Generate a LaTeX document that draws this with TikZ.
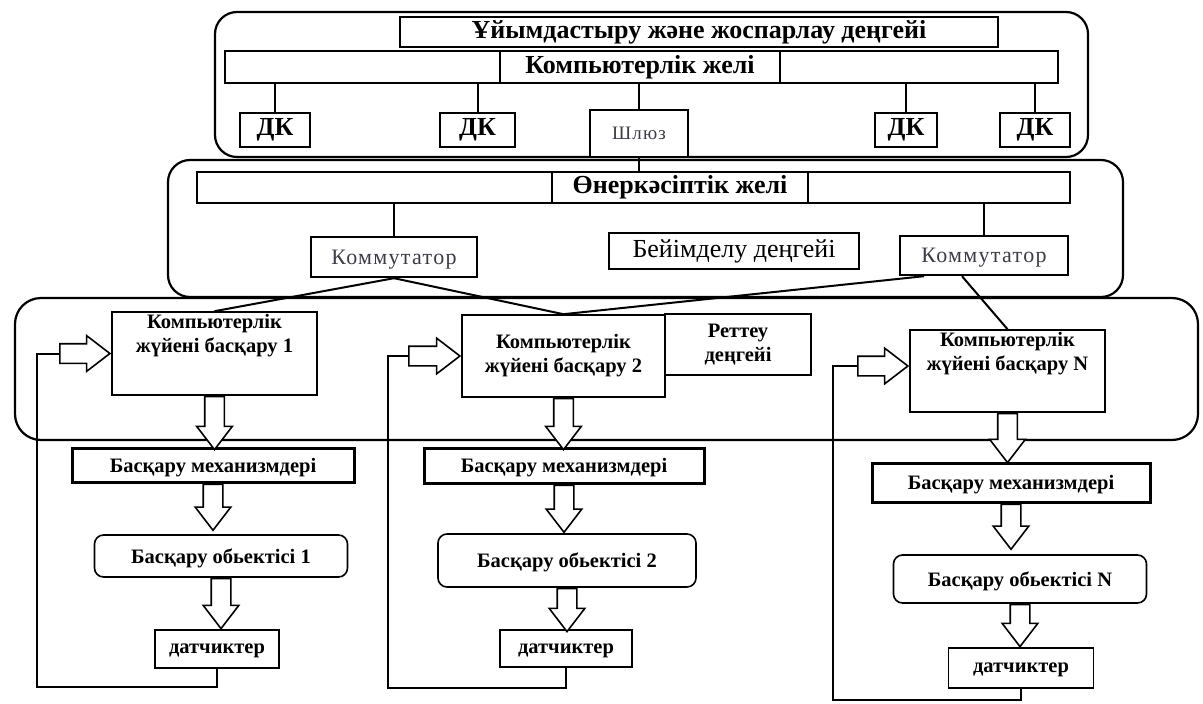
\documentclass[tikz,border=0pt]{standalone}
\usepackage{fontspec}
\setmainfont{Liberation Serif}
\usetikzlibrary{positioning,shapes.arrows}

\definecolor{komtext}{RGB}{60,60,72}

\tikzset{
  sz/.style 2 args={minimum width=#1, minimum height=#2},
  level/.style={draw, line width=2.2pt, rounded corners=22pt, inner sep=0pt},
  bar/.style={draw, line width=2.6pt, inner sep=0pt},
  lbl/.style={draw, line width=1.4pt, fill=white, inner sep=0pt, font=\bfseries\fontsize{26}{28}\selectfont},
  pc/.style={draw, line width=1.6pt, fill=white, inner sep=0pt, font=\bfseries\fontsize{26}{28}\selectfont},
  kom/.style={draw, line width=2.4pt, fill=white, inner sep=0pt, text=komtext, text depth=0pt,
    font=\fontsize{22}{24}\selectfont\addfontfeatures{LetterSpace=6}},
  box/.style={draw, line width=1.6pt, fill=white, inner sep=0pt, text depth=0pt, font=\bfseries\fontsize{20.5}{24}\selectfont},
  box2/.style={draw, line width=1.6pt, fill=white, inner sep=0pt, align=center, font=\bfseries\fontsize{20.5}{24}\selectfont},
  boxtxt/.style={inner sep=0pt, align=center, font=\bfseries\fontsize{20.5}{24}\selectfont},
  mech/.style={box, line width=3pt},
  obj/.style={box, rounded corners=9pt},
  link/.style={line width=2pt},
  arr/.style={single arrow, draw, line width=1.6pt, fill=white, inner sep=9pt,
    minimum width=35pt, single arrow head extend=8pt, single arrow tip angle=75},
  darrow/.style={arr, shape border rotate=270, minimum height=#1, anchor=tail},
  rarrow/.style={arr, minimum height=#1, anchor=tip}
}

\begin{document}
\begin{tikzpicture}[x=1pt, y=-1pt]
  \useasboundingbox (0,0) rectangle (1203,704);

  % three levels
  \node[level, sz={873pt}{145pt}] (lev1) at (651.5,84.5) {};
  \node[level, sz={955pt}{137pt}] (lev2) at (645.5,228.5) {};
  \node[level, sz={1183pt}{142pt}, rounded corners=26pt] (lev3) at (606.5,369) {};

  % organisation and planning level
  \node[lbl, sz={598pt}{30pt}] (title1) at (699,32) {Ұйымдастыру және жоспарлау деңгейі};
  \node[bar, sz={833pt}{32pt}] (net1) at (641.5,67) {};
  \node[lbl, sz={280pt}{32pt}] (net1lbl) at (640,67) {Компьютерлік желі};
  \node[pc, sz={70pt}{34pt}] (dk1) at (275,130) {ДК};
  \node[pc, sz={75pt}{34pt}] (dk2) at (477.5,130) {ДК};
  \node[kom, sz={98pt}{47pt}, font=\fontsize{19}{21}\selectfont\addfontfeatures{LetterSpace=6}] (gw) at (639,133.5) {Шлюз};
  \node[pc, sz={62pt}{34pt}] (dk3) at (906,130) {ДК};
  \node[pc, sz={70pt}{34pt}] (dk4) at (1035,130) {ДК};

  \foreach \n in {dk1,dk2,gw,dk3,dk4}
    \draw[link] (\n.north) -- (\n.north |- net1.south);

  % adaptation level
  \node[bar, sz={873pt}{31pt}] (net2) at (633.5,187.5) {};
  \node[lbl, sz={256pt}{31pt}] (net2lbl) at (680,187.5) {Өнеркәсіптік желі};
  \node[kom, sz={166pt}{40pt}] (kom1) at (394,257) {Коммутатор};
  \node[draw, line width=1.4pt, inner sep=0pt, sz={250pt}{36pt}, font=\fontsize{26}{28}\selectfont] (adapt) at (734,251) {Бейімделу деңгейі};
  \node[kom, sz={168pt}{39pt}] (kom2) at (984,255.5) {Коммутатор};

  \draw[link] (gw.south) -- (gw.south |- net2.north);
  \draw[link] (kom1.north) -- (kom1.north |- net2.south);
  \draw[link] (kom2.north) -- (kom2.north |- net2.south);

  % control level
  \node[box, sz={205pt}{83pt}] (cjb1) at (214.5,353.5) {};
  \node[boxtxt, below=3pt of cjb1.north] (cjb1txt) {Компьютерлік\\жүйені басқару 1};
  \node[box2, sz={203pt}{82pt}] (cjb2) at (563.5,356) {Компьютерлік\\жүйені басқару 2};
  \node[box2, sz={146pt}{61pt}] (reg) at (738,344.5) {Реттеу\\деңгейі};
  \node[box, sz={195pt}{82pt}] (cjbN) at (1007.5,371) {};
  \node[boxtxt, below=3pt of cjbN.north] (cjbNtxt) {Компьютерлік\\жүйені басқару N};

  \draw[link] (kom1.south) -- (cjb1.north);
  \draw[link] (kom1.south) -- (cjb2.north);
  \draw[link] ([xshift=-60pt]kom2.south) -- (cjb2.north);
  \draw[link] ([xshift=-22pt]kom2.south) -- (cjbN.north);

  % column 1
  \node[mech, sz={282pt}{34pt}] (mech1) at (213,465) {Басқару механизмдері};
  \node[obj, sz={253pt}{42pt}] (obj1) at (221,556) {Басқару обьектісі 1};
  \node[box, sz={124pt}{38pt}] (sens1) at (217,649) {датчиктер};
  \node[darrow=53pt] (a11) at (cjb1.south) {};
  \node[darrow=46pt] (a12) at (mech1.south) {};
  \node[darrow=50pt] (a13) at (obj1.south) {};
  \node[rarrow=50pt] (in1) at (cjb1.west) {};
  \coordinate (fb1) at (37,687);
  \draw[link] (sens1.south) |- (fb1) |- (in1.tail);

  % column 2
  \node[mech, sz={280pt}{35pt}] (mech2) at (564,465.5) {Басқару механизмдері};
  \node[obj, sz={258pt}{53pt}] (obj2) at (567,560.5) {Басқару обьектісі 2};
  \node[box, sz={132pt}{37pt}] (sens2) at (566,648.5) {датчиктер};
  \node[darrow=51pt] (a21) at (cjb2.south) {};
  \node[darrow=47pt] (a22) at (mech2.south) {};
  \node[darrow=43pt] (a23) at (obj2.south) {};
  \node[rarrow=51pt] (in2) at (cjb2.west) {};
  \coordinate (fb2) at (388,688);
  \draw[link] (sens2.south) |- (fb2) |- (in2.tail);

  % column N
  \node[mech, sz={278pt}{39pt}] (mechN) at (1011,482.5) {Басқару механизмдері};
  \node[obj, sz={253pt}{48pt}] (objN) at (1020,579) {Басқару обьектісі N};
  \node[box, sz={145pt}{40pt}] (sensN) at (1021,668) {датчиктер};
  \node[darrow=49pt] (aN1) at (cjbN.south) {};
  \node[darrow=45pt] (aN2) at (mechN.south) {};
  \node[darrow=42pt] (aN3) at (objN.south) {};
  \node[rarrow=50pt] (inN) at ([yshift=5pt]cjbN.west) {};
  \coordinate (fbN) at (833,700);
  \draw[link] (sensN.south) |- (fbN) |- (inN.tail);
\end{tikzpicture}
\end{document}
